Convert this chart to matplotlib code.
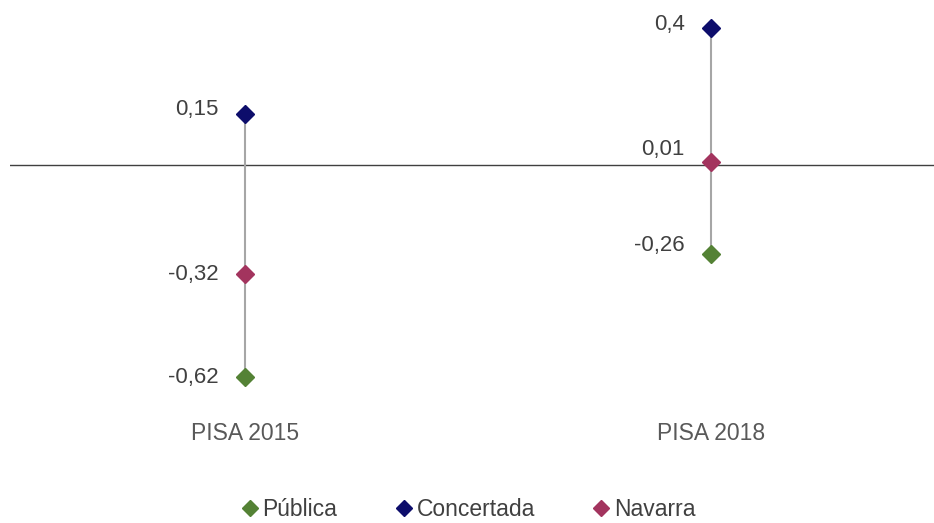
import matplotlib
matplotlib.use("Agg")
import matplotlib.pyplot as plt

plt.rcParams['font.family'] = ['Liberation Sans', 'DejaVu Sans']

# data
categories = ["PISA 2015", "PISA 2018"]
series_names = ["Pública", "Concertada", "Navarra"]
publica = [-0.62, -0.26]
concertada = [0.15, 0.4]
navarra = [-0.32, 0.01]
label_text = {
    "Pública": ["-0,62", "-0,26"],
    "Concertada": ["0,15", "0,4"],
    "Navarra": ["-0,32", "0,01"],
}

# styling
colors = {"Pública": "#548235", "Concertada": "#0D0D6B", "Navarra": "#A3345E"}
label_dy = {"Pública": [0, 6], "Concertada": [3, 3], "Navarra": [0, 9]}
text_color = "#595959"


def main():
    fig = plt.figure(figsize=(9.34, 5.23), dpi=100)
    ax = fig.add_axes([10 / 934, 113 / 523, 924 / 934, 400 / 523])

    values = {"Pública": publica, "Concertada": concertada, "Navarra": navarra}
    xs = list(range(len(categories)))

    ax.axhline(0, color="#404040", lw=1, zorder=1)

    lows = [min(v) for v in zip(publica, concertada, navarra)]
    highs = [max(v) for v in zip(publica, concertada, navarra)]
    ax.vlines(xs, lows, highs, color="#A6A6A6", lw=1.5, zorder=2)

    for name in series_names:
        ax.plot(xs, values[name], ls="none", marker="D", ms=9.5,
                color=colors[name], label=name, zorder=3)
        for i, (x, y) in enumerate(zip(xs, values[name])):
            ax.annotate(label_text[name][i], (x, y), xytext=(-19, label_dy[name][i]),
                        textcoords="offset points", ha="right", va="center",
                        fontsize=16, color="#404040")

    ax.set_xlim(-235 / 466, 1 + 223 / 466)
    ax.set_ylim(-245 / 342, 155 / 342)
    ax.set_xticks(xs)
    ax.set_xticklabels(categories, fontsize=16.5, color=text_color)
    ax.tick_params(axis="x", length=0, pad=9)
    ax.set_yticks([])
    for s in ax.spines.values():
        s.set_visible(False)

    fig.legend(loc="center", bbox_to_anchor=(0.5, 13 / 523), ncol=3, frameon=False,
               fontsize=16.5, handletextpad=0.05, columnspacing=2.4, markerscale=0.85,
               labelcolor="#404040", handlelength=1.0)

    fig.savefig("out.png", dpi=100)


if __name__ == '__main__':
    main()
